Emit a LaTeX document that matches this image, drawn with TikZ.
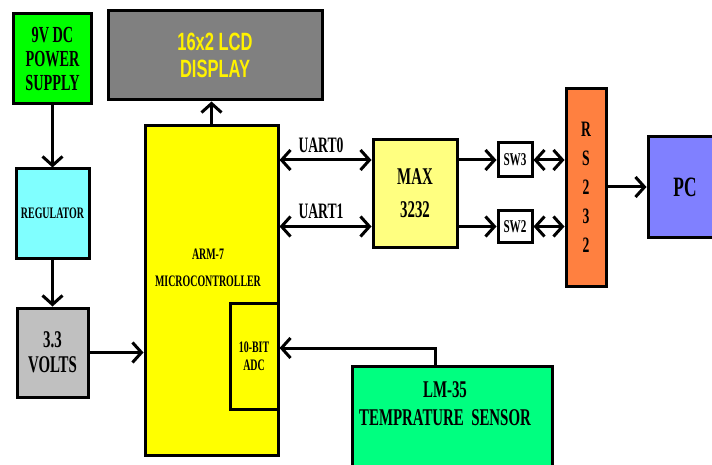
\documentclass[tikz,border=0pt]{standalone}
\usepackage{fontspec}
\usepackage{tikz}
\usetikzlibrary{arrows.meta}
\newfontfamily\narrowserif[FakeStretch=0.62]{Liberation Serif}
\newfontfamily\narrowsans[FakeStretch=0.66]{Liberation Sans}
\newcommand{\fsz}[2]{\fontsize{#1}{#2}\selectfont}
\definecolor{pwrgreen}{RGB}{0,255,0}
\definecolor{lcdgray}{RGB}{128,128,128}
\definecolor{regcyan}{RGB}{128,255,255}
\definecolor{voltgray}{RGB}{192,192,192}
\definecolor{mcuyellow}{RGB}{255,255,0}
\definecolor{maxyellow}{RGB}{255,255,128}
\definecolor{rsorange}{RGB}{255,128,64}
\definecolor{pcblue}{RGB}{128,128,255}
\definecolor{sensgreen}{RGB}{0,255,128}
\tikzset{blk/.style={draw, line width=3pt, inner sep=0pt, align=center, font=\narrowserif\bfseries}}

\begin{document}
\begin{tikzpicture}[x=1pt,y=-1pt,line width=3pt,>={Straight Barb[length=9pt,width=20pt]}]
\useasboundingbox (0,0) rectangle (712,465);
% blocks
\node[blk, fill=pwrgreen, minimum width=78pt, minimum height=90pt, font=\narrowserif\bfseries\fsz{23}{24}] (psu) at (52.5,59) {9V DC\\POWER\\SUPPLY};
\node[blk, fill=lcdgray, text=yellow, minimum width=214pt, minimum height=89pt, font=\narrowsans\bfseries\fsz{25}{27}] (lcd) at (215,55.5) {16x2 LCD\\DISPLAY};
\node[blk, fill=regcyan, minimum width=73pt, minimum height=89pt, font=\narrowserif\bfseries\fsz{16}{16}] (reg) at (52.5,213.5) {REGULATOR};
\node[blk, fill=voltgray, minimum width=71pt, minimum height=89pt, font=\narrowserif\bfseries\fsz{24}{25}] (volts) at (52.5,352.5) {3.3\\VOLTS};
\node[blk, fill=mcuyellow, minimum width=133pt, minimum height=329pt] (mcu) at (211.5,290.5) {};
\node[font=\narrowserif\bfseries\fsz{16}{27}, align=center] (mcutxt) at (208,268) {ARM-7\\MICROCONTROLLER};
\node[blk, fill=mcuyellow, minimum width=48pt, minimum height=106pt, font=\narrowserif\bfseries\fsz{16}{18}] (adc) at (254,356) {10-BIT\\ADC};
\node[blk, fill=maxyellow, minimum width=84pt, minimum height=107pt, font=\narrowserif\bfseries\fsz{24}{33}] (max) at (415,193.5) {MAX\\3232};
\node[blk, fill=white, minimum width=34pt, minimum height=34pt, font=\narrowserif\bfseries\fsz{18}{18}] (sw3) at (515,160) {SW3};
\node[blk, fill=white, minimum width=34pt, minimum height=31pt, font=\narrowserif\bfseries\fsz{18}{18}] (sw2) at (515,226.5) {SW2};
\node[blk, fill=rsorange, minimum width=40pt, minimum height=197pt, font=\narrowserif\bfseries\fsz{22}{29}] (rs) at (586,187.5) {R\\S\\2\\3\\2};
\node[blk, fill=pcblue, minimum width=74pt, minimum height=100pt, font=\narrowserif\bfseries\fsz{28}{28}] (pc) at (685,187) {PC};
\node[blk, fill=sensgreen, minimum width=200pt, minimum height=104pt] (sensor) at (452,418) {};
\node[font=\narrowserif\bfseries\fsz{24}{28}, align=center] (senstxt) at (445,404) {LM-35\\TEMPRATURE\ \ SENSOR};
% UART labels
\node[font=\narrowserif\bfseries\fsz{22}{22}] (u0) at (321,145) {UART0};
\node[font=\narrowserif\bfseries\fsz{22}{22}] (u1) at (321,211) {UART1};
% power path
\draw[->] (psu) -- (reg);
\draw[->] (reg) -- (volts);
\draw[->] (volts.east) -- (volts.east -| mcu.west);
\draw[->] (mcu.north) -- (mcu.north |- lcd.south);
% serial path
\draw[<->] (mcu.east |- sw3) -- (max.west |- sw3);
\draw[<->] (mcu.east |- sw2) -- (max.west |- sw2);
\draw[->] (max.east |- sw3) -- (sw3.west);
\draw[->] (max.east |- sw2) -- (sw2.west);
\draw[<->] (sw3.east) -- (sw3 -| rs.west);
\draw[<->] (sw2.east) -- (sw2 -| rs.west);
\draw[->] (rs.east |- pc.west) -- (pc.west);
% sensor
\coordinate (tap) at (435,348);
\draw[->] (sensor.north -| tap) -- (tap) -- (tap -| adc.east);
\end{tikzpicture}
\end{document}
